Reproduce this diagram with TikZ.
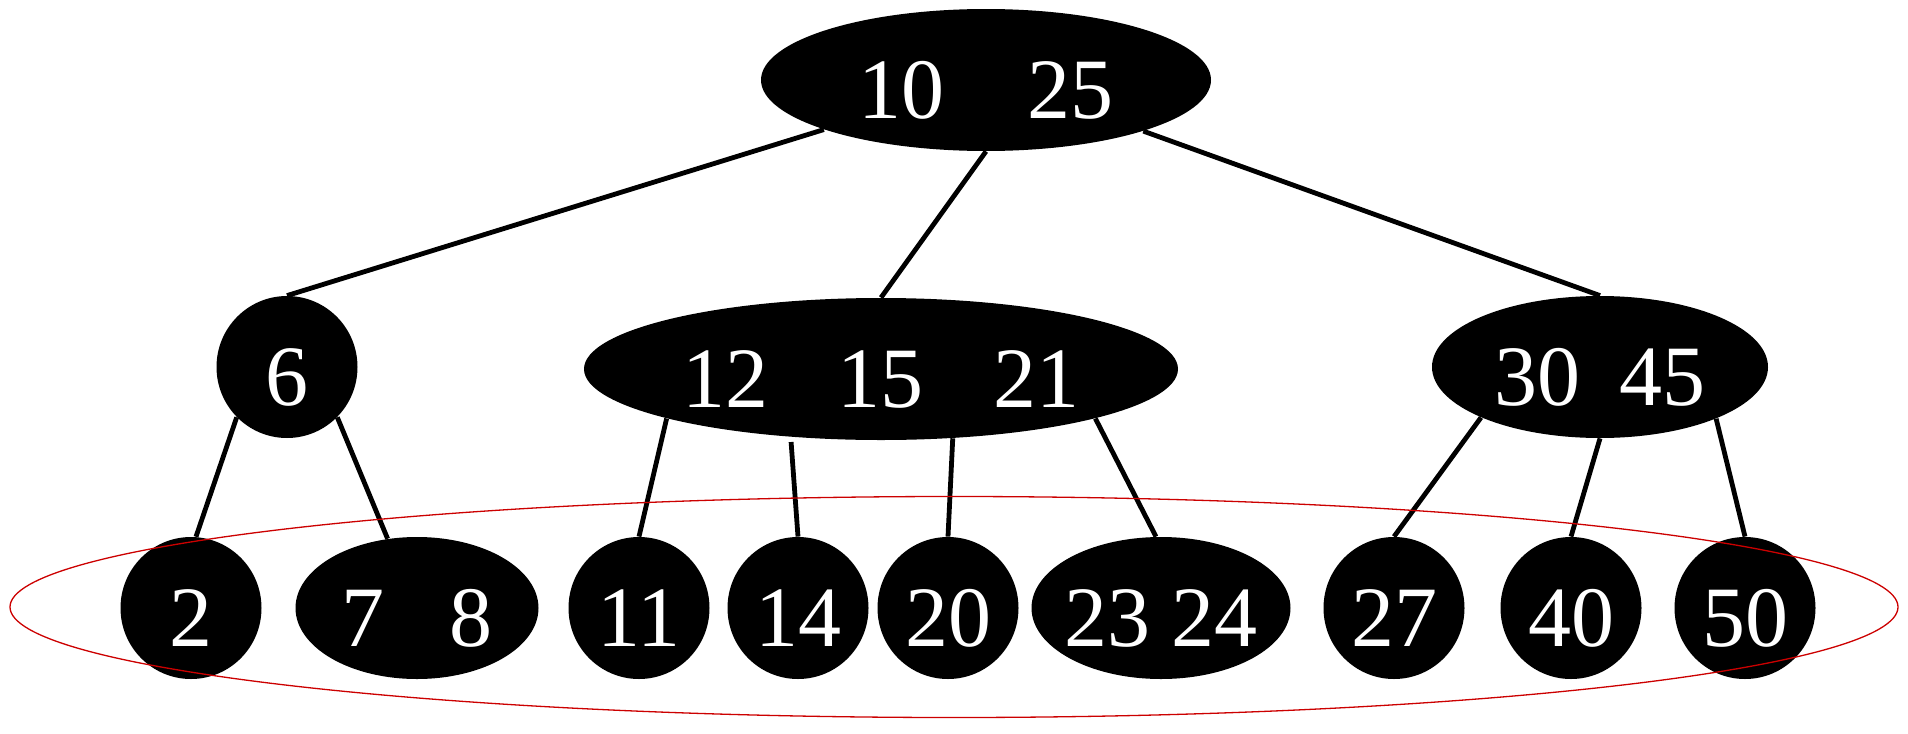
\documentclass[tikz,border=0pt]{standalone}
\usepackage{fontspec}
\setmainfont{Liberation Serif}
\usetikzlibrary{shapes.geometric}
\definecolor{ring}{RGB}{204,0,0}
\begin{document}
\begin{tikzpicture}[x=0.5pt,y=-0.5pt]
\tikzset{
	key/.style={ellipse,fill=black,text=white,inner sep=0pt,
		minimum width=70.5pt,minimum height=71pt,
		text height=38pt,text depth=0pt,
		font=\fontsize{43}{43}\selectfont},
	link/.style={draw,line width=2.4pt}
}
\useasboundingbox (0,0) rectangle (1908,734);

% inner nodes
\node[key,minimum width=225pt] (root) at (986,80) {10\hspace{42pt}25};
\node[key] (a) at (287,367) {6};
\node[key,minimum width=297pt] (b) at (881,369) {12\hspace{35pt}15\hspace{35pt}21};
\node[key,minimum width=168pt] (c) at (1600,367) {30\hspace{19.5pt}45};

% leaves
\node[key] (a1) at (191,608) {2};
\node[key,minimum width=121.5pt] (a2) at (417,608) {7\hspace{32.5pt}8};
\node[key] (b1) at (639,608) {11};
\node[key] (b2) at (798,608) {14};
\node[key] (b3) at (948,608) {20};
\node[key,minimum width=129.5pt,inner xsep=-3.5pt] (b4) at (1161,608) {23\hspace{11pt}24};
\node[key] (c1) at (1394,608) {27};
\node[key] (c2) at (1571,608) {40};
\node[key] (c3) at (1745,608) {50};

\draw[link] (root.197.8) -- (a.north);
\draw[link] (root.south) -- (b.north);
\draw[link] (root.342.1) -- (c.north);
\draw[link] (a.225.5) -- (a1.86);
\draw[link] (a.315) -- (a2.113.5);
\draw[link] (b.193.7) -- (b1.north);
\draw[link,shorten <=2.5pt] (b.217.6) -- (b2.north);
\draw[link] (b.316.7) -- (b3.north);
\draw[link] (b.347.7) -- (b4.94.8);
\draw[link] (c.203) -- (c1.north);
\draw[link] (c.south) -- (c2.north);
\draw[link] (c.336.7) -- (c3.north);

% leaf level
\draw[ring,line width=0.65pt] (954,607) ellipse [x radius=944, y radius=110.5];
\end{tikzpicture}
\end{document}
